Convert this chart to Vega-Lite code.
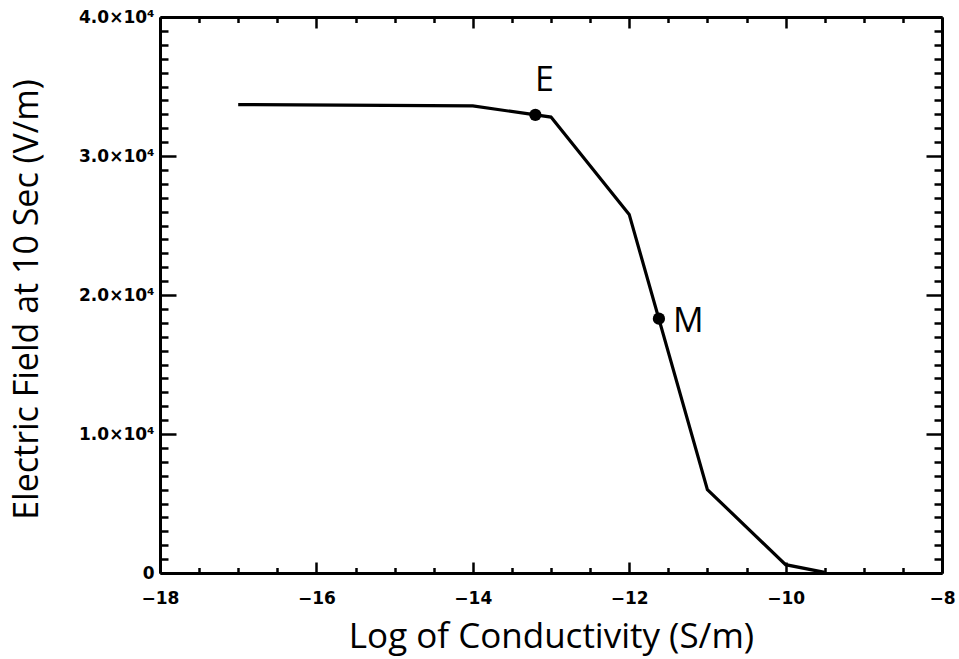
{
  "$schema": "https://vega.github.io/schema/vega-lite/v6.json",
  "width": 782,
  "height": 556,
  "autosize": {"type": "none"},
  "padding": {"left": 160, "top": 17, "right": 17, "bottom": 86},
  "background": "white",
  "config": {
    "view": {"stroke": null},
    "axis": {
      "grid": false,
      "domainColor": "black",
      "domainWidth": 3,
      "tickColor": "black",
      "tickWidth": 2.5,
      "labelFont": "DejaVu Sans",
      "labelFontWeight": "bold",
      "labelFontSize": 17,
      "labelColor": "black",
      "titleFont": "Open Sans",
      "titleFontWeight": "normal",
      "titleFontSize": 35,
      "titleColor": "black"
    }
  },
  "datasets": {
    "curve": [
      {"logc": -17.0, "field": 33700},
      {"logc": -14.0, "field": 33600},
      {"logc": -13.0, "field": 32800},
      {"logc": -12.0, "field": 25800},
      {"logc": -11.0, "field": 6000},
      {"logc": -10.0, "field": 600},
      {"logc": -9.5, "field": 50}
    ],
    "marks": [
      {"logc": -13.2, "field": 32960, "label": "E"},
      {"logc": -11.62, "field": 18300, "label": "M"}
    ]
  },
  "resolve": {"axis": {"x": "independent", "y": "independent"}},
  "layer": [
    {
      "data": {"name": "curve"},
      "mark": {"type": "line", "color": "black", "strokeWidth": 3.2},
      "encoding": {
        "x": {
          "field": "logc", "type": "quantitative",
          "scale": {"domain": [-18, -8], "nice": false, "zero": false},
          "axis": {
            "orient": "bottom",
            "values": [-18, -16, -14, -12, -10, -8],
            "tickSize": -11,
            "labelPadding": 28,
            "labelBaseline": "top",
            "labelFont": "DejaVu Sans",
            "labelFontWeight": "bold",
            "labelFontSize": 17,
            "labelExpr": "replace(format(datum.value, 'd'), '-', '\u2212')",
            "labelFlush": false,
            "labelOverlap": false,
            "title": "Log of Conductivity (S/m)",
            "titleBaseline": "alphabetic",
            "titleY": 74
          }
        },
        "y": {
          "field": "field", "type": "quantitative",
          "scale": {"domain": [0, 40000], "nice": false},
          "axis": {
            "orient": "left",
            "values": [0, 10000, 20000, 30000, 40000],
            "tickSize": -16,
            "labelPadding": 22,
            "labelFont": "DejaVu Sans",
            "labelFontWeight": "bold",
            "labelFontSize": 17,
            "labelFlush": false,
            "labelOverlap": false,
            "labelExpr": "datum.value == 0 ? '0' : format(datum.value / 10000, '.1f') + '\u00d710\u2074'",
            "title": "Electric Field at 10 Sec (V/m)",
            "titleFontSize": 34,
            "titleBaseline": "alphabetic",
            "titleAlign": "center",
            "titleX": -123,
            "titleY": 282
          }
        }
      }
    },
    {
      "data": {"name": "marks"},
      "mark": {"type": "point", "filled": true, "color": "black", "size": 150, "opacity": 1},
      "encoding": {
        "x": {
          "field": "logc", "type": "quantitative",
          "axis": {
            "orient": "bottom",
            "values": [-17.5, -17, -16.5, -15.5, -15, -14.5, -13.5, -13, -12.5, -11.5, -11, -10.5, -9.5, -9, -8.5],
            "tickSize": -5.5,
            "labels": false,
            "domain": false,
            "title": null
          }
        },
        "y": {
          "field": "field", "type": "quantitative",
          "axis": {
            "orient": "left",
            "values": [1000, 2000, 3000, 4000, 5000, 6000, 7000, 8000, 9000, 11000, 12000, 13000, 14000, 15000, 16000, 17000, 18000, 19000, 21000, 22000, 23000, 24000, 25000, 26000, 27000, 28000, 29000, 31000, 32000, 33000, 34000, 35000, 36000, 37000, 38000, 39000],
            "tickSize": -8,
            "labels": false,
            "domain": false,
            "title": null
          }
        }
      }
    },
    {
      "data": {"name": "marks"},
      "transform": [{"filter": "datum.label == 'E'"}],
      "mark": {"type": "text", "font": "Open Sans", "fontSize": 34, "color": "black", "align": "center", "baseline": "alphabetic", "dx": 9, "dy": -24},
      "encoding": {
        "text": {"field": "label"},
        "x": {
          "field": "logc", "type": "quantitative",
          "axis": {
            "orient": "top",
            "values": [-18, -16, -14, -12, -10, -8],
            "tickSize": -11,
            "labels": false,
            "title": null
          }
        },
        "y": {
          "field": "field", "type": "quantitative",
          "axis": {
            "orient": "right",
            "values": [0, 10000, 20000, 30000, 40000],
            "tickSize": -16,
            "labels": false,
            "title": null
          }
        }
      }
    },
    {
      "data": {"name": "marks"},
      "transform": [{"filter": "datum.label == 'M'"}],
      "mark": {"type": "text", "font": "Open Sans", "fontSize": 34, "color": "black", "align": "left", "baseline": "alphabetic", "dx": 14, "dy": 13},
      "encoding": {
        "text": {"field": "label"},
        "x": {
          "field": "logc", "type": "quantitative",
          "axis": {
            "orient": "top",
            "values": [-17.5, -17, -16.5, -15.5, -15, -14.5, -13.5, -13, -12.5, -11.5, -11, -10.5, -9.5, -9, -8.5],
            "tickSize": -5.5,
            "labels": false,
            "domain": false,
            "title": null
          }
        },
        "y": {
          "field": "field", "type": "quantitative",
          "axis": {
            "orient": "right",
            "values": [1000, 2000, 3000, 4000, 5000, 6000, 7000, 8000, 9000, 11000, 12000, 13000, 14000, 15000, 16000, 17000, 18000, 19000, 21000, 22000, 23000, 24000, 25000, 26000, 27000, 28000, 29000, 31000, 32000, 33000, 34000, 35000, 36000, 37000, 38000, 39000],
            "tickSize": -8,
            "labels": false,
            "domain": false,
            "title": null
          }
        }
      }
    }
  ]
}
